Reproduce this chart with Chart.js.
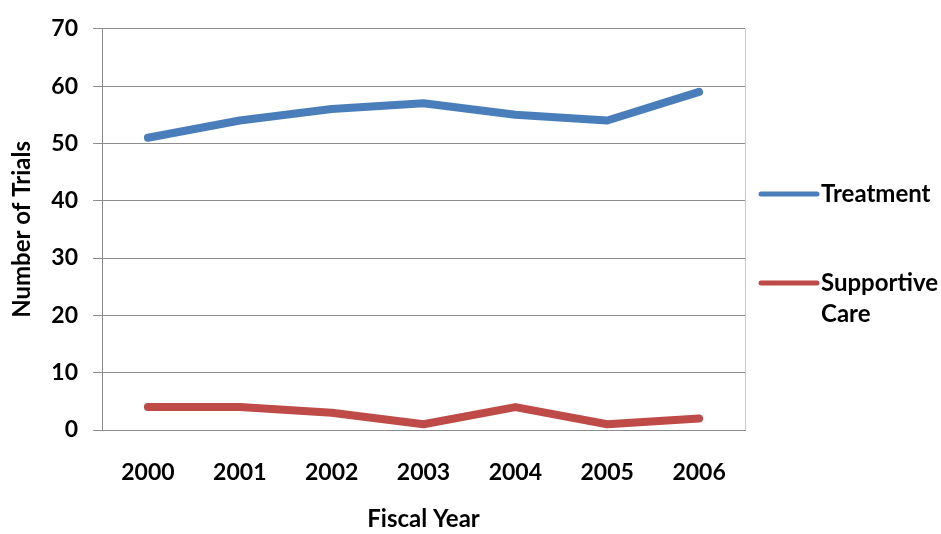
<!DOCTYPE html>
<html>
<head>
<meta charset="utf-8">
<script src="https://cdn.jsdelivr.net/npm/chart.js@4.4.1/dist/chart.umd.min.js"></script>
<style>
  html, body { margin: 0; padding: 0; background: #fff; }
  #wrap { width: 941px; height: 534px; }
</style>
</head>
<body>
<div id="wrap"><canvas id="c" width="941" height="534"></canvas></div>
<script>
// Fiscal years on the x axis
const years = ['2000', '2001', '2002', '2003', '2004', '2005', '2006'];
// Number of trials per year
const treatment = [51, 54, 56, 57, 55, 54, 59];
const supportiveCare = [4, 4, 3, 1, 4, 1, 2];
// Legend labels (multi-line allowed)
const seriesNames = [['Treatment'], ['Supportive', 'Care']];
const yTicks = [0, 10, 20, 30, 40, 50, 60, 70];

const FONT = 'Lato, "Open Sans", sans-serif';
const GRID = '#8c8c8c';

// Plot frame on the right side and the side legend
const framePlugin = {
  id: 'frame',
  afterDraw(chart) {
    const ctx = chart.ctx, a = chart.chartArea;
    ctx.save();
    ctx.strokeStyle = '#c8c8c8';
    ctx.lineWidth = 1;
    ctx.beginPath();
    ctx.moveTo(Math.round(a.right) + 0.5, a.top);
    ctx.lineTo(Math.round(a.right) + 0.5, a.bottom);
    ctx.stroke();

    // legend entries
    const x0 = a.right + 16, x1 = x0 + 56;
    const rows = [194, 283];
    chart.data.datasets.forEach((ds, i) => {
      const y = rows[i];
      ctx.strokeStyle = ds.borderColor;
      ctx.lineWidth = 5;
      ctx.lineCap = 'round';
      ctx.beginPath();
      ctx.moveTo(x0, y);
      ctx.lineTo(x1, y);
      ctx.stroke();
      ctx.fillStyle = '#000';
      ctx.font = 'bold 24px ' + FONT;
      ctx.textBaseline = 'middle';
      ctx.textAlign = 'left';
      seriesNames[i].forEach((t, k) => ctx.fillText(t, x1 + 4, y + k * 31));
    });
    ctx.restore();
  }
};

new Chart(document.getElementById('c'), {
  type: 'line',
  data: {
    labels: years,
    datasets: [
      { label: 'Treatment', data: treatment, borderColor: '#4a7ebb' },
      { label: 'Supportive Care', data: supportiveCare, borderColor: '#be4b48' }
    ]
  },
  options: {
    responsive: false,
    animation: false,
    devicePixelRatio: 1,
    layout: { padding: { top: 22, right: 196, left: 8, bottom: 0 } },
    elements: {
      line: { borderWidth: 8, tension: 0, borderCapStyle: 'round', borderJoinStyle: 'round', fill: false },
      point: { radius: 0, hoverRadius: 0 }
    },
    plugins: { legend: { display: false }, tooltip: { enabled: false } },
    scales: {
      x: {
        offset: true,
        grid: { display: false, drawTicks: false },
        border: { display: true, color: GRID, width: 1 },
        ticks: { color: '#000', font: { family: FONT, size: 23, weight: 'bold' }, padding: 29, maxRotation: 0 },
        title: { display: true, text: 'Fiscal Year', color: '#000', font: { family: FONT, size: 24, weight: 'bold' }, padding: { top: 22, bottom: 0 } },
        afterFit(s) { s.height = 104; }
      },
      y: {
        min: 0, max: 70,
        afterBuildTicks(s) { s.ticks = yTicks.map(v => ({ value: v })); },
        grid: { color: GRID, lineWidth: 1, drawTicks: true, tickLength: 9, tickColor: GRID },
        border: { display: true, color: GRID, width: 1 },
        ticks: { color: '#000', font: { family: FONT, size: 23, weight: 'bold' }, padding: 15 },
        title: { display: true, text: 'Number of Trials', color: '#000', font: { family: FONT, size: 24, weight: 'bold' }, padding: { top: 0, bottom: 0 } },
        afterFit(s) { s.width = 94; }
      }
    }
  },
  plugins: [framePlugin]
});
</script>
</body>
</html>
